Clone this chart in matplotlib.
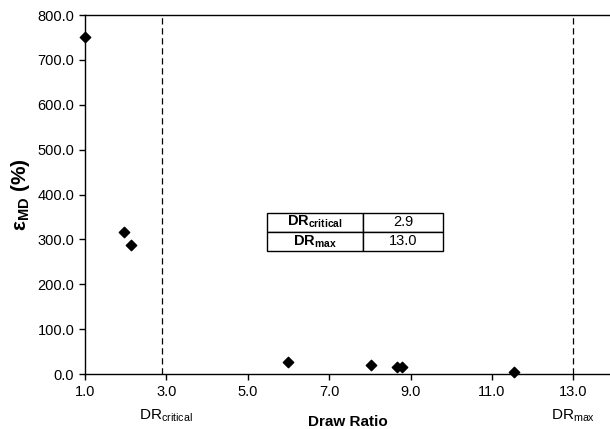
import numpy as np
import matplotlib
matplotlib.use('Agg')
import matplotlib.pyplot as plt

plt.rcParams['font.family'] = ['Liberation Sans', 'DejaVu Sans']
plt.rcParams['mathtext.fontset'] = 'custom'
plt.rcParams['mathtext.rm'] = 'Liberation Sans'
plt.rcParams['mathtext.it'] = 'Liberation Sans'
plt.rcParams['mathtext.bf'] = 'Liberation Sans:bold'

# data
draw_ratio = [1.0, 1.97, 2.13, 5.99, 8.02, 8.68, 8.8, 11.54]
strain_md = [750.0, 316.0, 287.0, 27.0, 20.0, 16.0, 15.0, 5.0]
dr_critical = 2.9
dr_max = 13.0
x_ticks = [1.0, 3.0, 5.0, 7.0, 9.0, 11.0, 13.0]
y_ticks = [0, 100, 200, 300, 400, 500, 600, 700, 800]


def main():
    fig = plt.figure(figsize=(6.1, 4.29), dpi=100)
    ax = fig.add_axes([0.139, 0.128, 0.861, 0.837])

    ax.scatter(draw_ratio, strain_md, marker='D', s=28, color='black', zorder=3, clip_on=False)
    ax.axvline(dr_critical, color='black', linestyle=(0, (5, 3)), linewidth=0.9)
    ax.axvline(dr_max, color='black', linestyle=(0, (5, 3)), linewidth=0.9)

    ax.set_xlim(1.0, 13.9)
    ax.set_ylim(0, 800)
    ax.set_xticks(x_ticks)
    ax.set_xticklabels(['%.1f' % v for v in x_ticks], fontsize=10.5)
    ax.set_yticks(y_ticks)
    ax.set_yticklabels(['%.1f' % v for v in y_ticks], fontsize=10.5)
    ax.tick_params(direction='out', length=4, width=1)

    ax.spines['right'].set_visible(False)
    for s in ['left', 'bottom', 'top']:
        ax.spines[s].set_linewidth(1.0)

    ax.set_xlabel('Draw Ratio', fontsize=11, fontweight='bold', labelpad=12)
    ax.set_ylabel(r'$\mathbf{\varepsilon}$$_{\mathbf{MD}}$ (%)', fontsize=15, fontweight='bold', labelpad=4)

    ax.text(3.0, -0.115, r'DR$_{\mathrm{critical}}$', transform=ax.get_xaxis_transform(),
            ha='center', va='center', fontsize=11)
    ax.text(13.0, -0.115, r'DR$_{\mathrm{max}}$', transform=ax.get_xaxis_transform(),
            ha='center', va='center', fontsize=11)

    cells = [[r'$\mathbf{DR_{critical}}$', '%.1f' % dr_critical],
             [r'$\mathbf{DR_{max}}$', '%.1f' % dr_max]]
    tab = ax.table(cellText=cells, cellLoc='center', colWidths=[0.183, 0.152],
                   bbox=[0.347, 0.343, 0.335, 0.107])
    tab.auto_set_font_size(False)
    tab.set_fontsize(10.5)
    for (r, c), cell in tab.get_celld().items():
        cell.set_linewidth(1.0)

    fig.savefig('out.png', dpi=100)


if __name__ == '__main__':
    main()
